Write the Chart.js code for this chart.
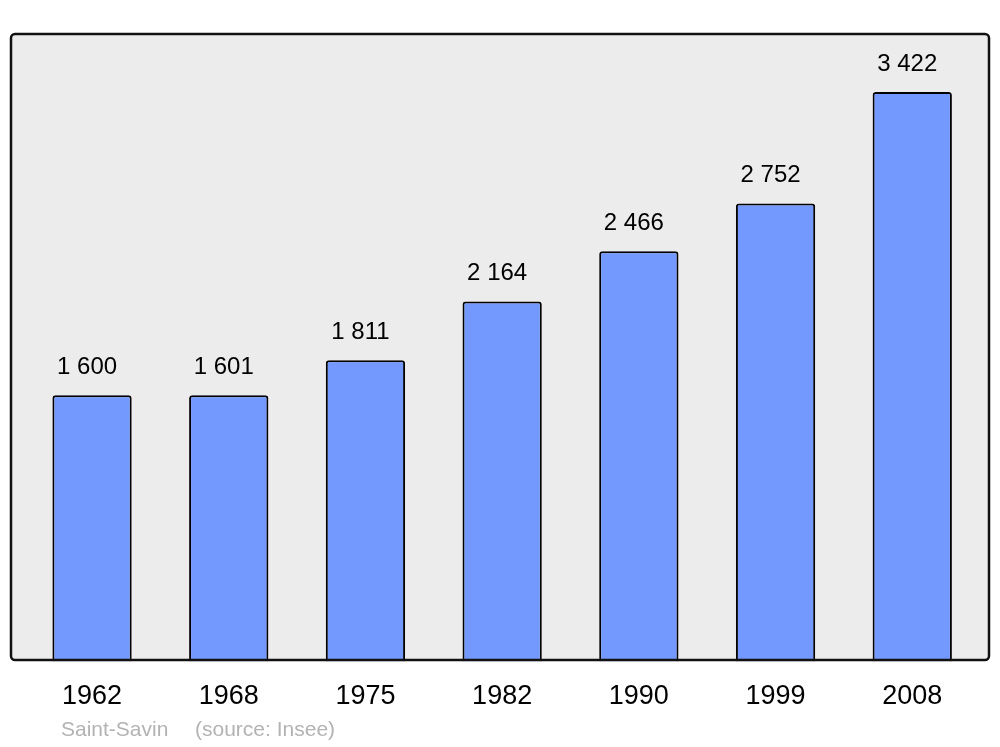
<!DOCTYPE html>
<html>
<head>
<meta charset="utf-8">
<script src="https://cdn.jsdelivr.net/npm/chart.js@4/dist/chart.umd.min.js"></script>
<style>
  html, body { margin: 0; padding: 0; background: #fff; }
  #wrap { width: 1000px; height: 747px; }
</style>
</head>
<body>
<div id="wrap"><canvas id="popChart"></canvas></div>
<script>
var years = ["1962", "1968", "1975", "1982", "1990", "1999", "2008"];
var population = [1600, 1601, 1811, 2164, 2466, 2752, 3422];
var valueLabels = ["1 600", "1 601", "1 811", "2 164", "2 466", "2 752", "3 422"];
var yMax = 3771;

// grey frame behind the bars
var framePlugin = {
  id: "frame",
  beforeDraw: function(chart) {
    var ctx = chart.ctx;
    ctx.save();
    ctx.beginPath();
    ctx.roundRect(11, 34, 978, 626, 4);
    ctx.fillStyle = "#ececec";
    ctx.fill();
    ctx.restore();
  },
  afterDatasetsDraw: function(chart) {
    var ctx = chart.ctx;
    ctx.save();
    ctx.beginPath();
    ctx.roundRect(11, 34, 978, 626, 4);
    ctx.lineWidth = 2.5;
    ctx.strokeStyle = "#111";
    ctx.stroke();

    // value above each bar
    var bars = chart.getDatasetMeta(0).data;
    ctx.font = "24px 'Liberation Sans', Arial, sans-serif";
    ctx.fillStyle = "#000";
    ctx.textAlign = "center";
    ctx.textBaseline = "middle";
    for (var i = 0; i < bars.length; i++) {
      ctx.fillText(valueLabels[i], bars[i].x - 5, bars[i].y - 28);
    }

    // source line
    ctx.font = "21px 'Liberation Sans', Arial, sans-serif";
    ctx.fillStyle = "#b3b3b3";
    ctx.textAlign = "left";
    ctx.fillText("Saint-Savin", 61, 730);
    ctx.fillText("(source: Insee)", 195, 730);
    ctx.restore();
  }
};

var chart = new Chart(document.getElementById("popChart"), {
  type: "bar",
  data: {
    labels: years,
    datasets: [{
      data: population,
      backgroundColor: "#7399ff",
      borderColor: "#000",
      borderWidth: 2,
      borderRadius: 3,
      barPercentage: 0.58,
      categoryPercentage: 1
    }]
  },
  options: {
    responsive: true,
    maintainAspectRatio: false,
    animation: false,
    layout: { padding: { left: 23.7, right: 19.4, top: 34, bottom: 15 } },
    plugins: {
      legend: { display: false },
      tooltip: { enabled: false }
    },
    scales: {
      x: {
        grid: { display: false, drawTicks: false },
        border: { display: false },
        ticks: {
          color: "#000",
          padding: 19,
          font: { family: "'Liberation Sans', Arial, sans-serif", size: 27 }
        }
      },
      y: { display: false, min: 0, max: yMax }
    }
  },
  plugins: [framePlugin]
});
</script>
</body>
</html>
